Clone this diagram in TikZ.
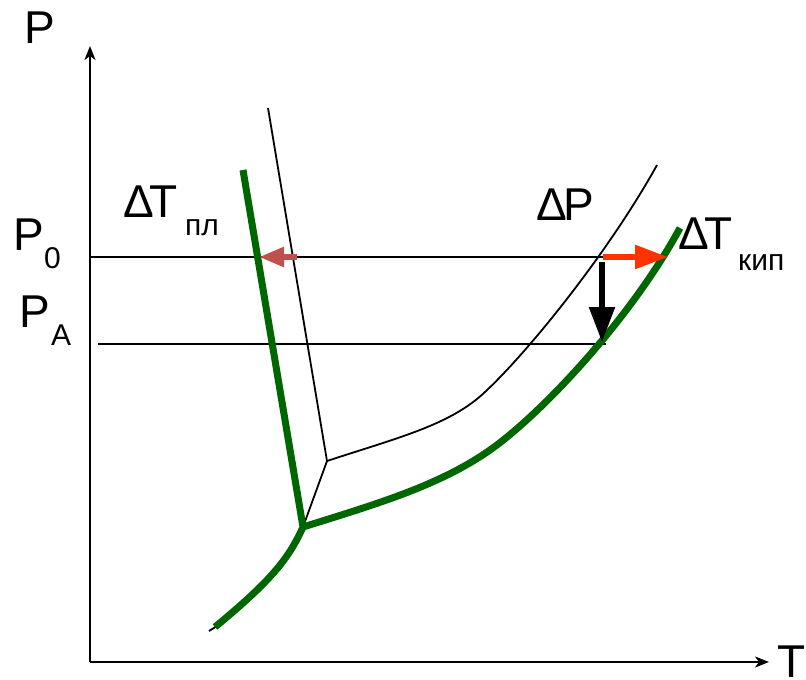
\documentclass[tikz,border=0pt]{standalone}
\usepackage{fontspec}
\setmainfont{Liberation Sans}
\usetikzlibrary{arrows.meta}
\definecolor{pgreen}{RGB}{0,102,0}
\definecolor{redL}{RGB}{192,80,77}
\definecolor{redR}{RGB}{255,51,0}
\begin{document}
\begin{tikzpicture}[x=1pt,y=-1pt,
  big/.style={anchor=base west, inner sep=0pt, font=\fontsize{46}{46}\selectfont},
  sub/.style={anchor=base west, inner sep=0pt, font=\fontsize{30}{30}\selectfont},
  axisline/.style={line width=1.8pt, -{Stealth[length=14pt,width=11pt,inset=4pt]}},
  fineline/.style={line width=1.8pt},
  levelline/.style={line width=2.2pt},
  phase/.style={line width=7pt, pgreen, line join=round},
  bigarrow/.style={line width=5.5pt}
]
\useasboundingbox (0,0) rectangle (806,680);
\fill[white] (0,0) rectangle (806,680);

% key points
\coordinate (O) at (90,662);
\coordinate (Ytip) at (90,46);
\coordinate (Xtip) at (769,662);
\coordinate (P0a) at (90,257);
\coordinate (P0b) at (603,257);
\coordinate (PAa) at (98,344);
\coordinate (PAb) at (606,344);
\coordinate (triple) at (303,527);
\coordinate (tripleB) at (327,461);
\coordinate (meltTop) at (243,170);
\coordinate (meltTopB) at (268,108);
\coordinate (boilTopB) at (657,165);
\coordinate (boilTop) at (680,228);
\coordinate (subEnd) at (215,627);

% axes
\draw[axisline] (O) -- (Ytip);
\draw[axisline] (O) -- (Xtip);

% pressure levels
\draw[levelline] (P0a) -- (P0b);
\draw[fineline] (PAa) -- (PAb);

% black (initial) phase diagram
\draw[fineline, line join=miter] (meltTopB) -- (tripleB) -- (triple);
\draw[fineline] (tripleB) .. controls (400,437) and (450,425) .. (485,392)
                .. controls (530,350) and (610,250) .. (boilTopB);

% green (shifted) phase diagram
\draw[fineline] (209,631) -- (217,626);
\draw[phase] (meltTop) -- (triple) .. controls (289,558) and (272,580) .. (subEnd);
\draw[phase] (triple) .. controls (380,503) and (440,485) .. (490,450)
             .. controls (540,415) and (630,320) .. (boilTop);

% arrows
\draw[bigarrow, redL, -{Triangle[length=25pt,width=19pt]}] (297,257) -- (259,257);
\draw[bigarrow, redR, -{Triangle[length=33pt,width=23pt]}] (P0b) -- (668,257);
\draw[bigarrow, black, -{Triangle[length=35pt,width=25pt]}] (602,262) -- (602,342);

% labels
\node[big] (lP) at (24,43) {P};
\node[big] (lT) at (777,677) {T};
\node[big] (lP0) at (13,250) {P};
\node[sub] (lP0s) at (44,268) {0};
\node[big] (lPA) at (19,327) {P};
\node[sub] (lPAs) at (51,345) {A};
\node[big] (ldTpl) at (123,217) {Δ\kern-4ptT};
\node[sub] (ldTpls) at (185,235) {пл};
\node[big] (ldP) at (536,220) {Δ\kern-3ptP};
\node[big] (ldTk) at (678,249) {Δ\kern-4ptT};
\node[sub] (ldTks) at (738,270) {кип};
\end{tikzpicture}
\end{document}
